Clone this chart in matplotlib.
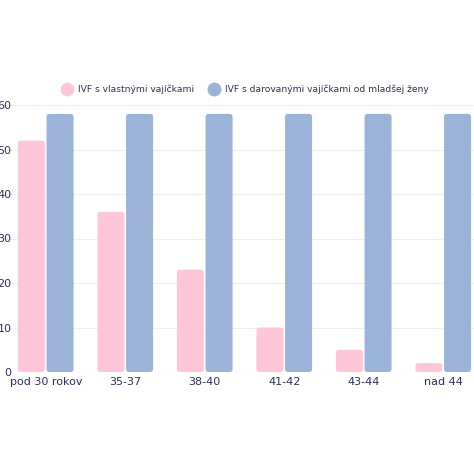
import matplotlib
matplotlib.use("Agg")
import matplotlib.pyplot as plt
from matplotlib.patches import FancyBboxPatch
from matplotlib.lines import Line2D

categories = ["pod 30 rokov", "35-37", "38-40", "41-42", "43-44", "nad 44"]
own = [52, 36, 23, 10, 5, 2]
donor = [58, 58, 58, 58, 58, 58]
series_names = ["IVF s vlastnými vajíčkami", "IVF s darovanými vajíčkami od mladšej ženy"]
colors = ["#FFC6DA", "#9BB3D6"]
txt = "#2E2E5C"

W = H = 474
fig = plt.figure(figsize=(W/100, H/100), dpi=100)
ax = fig.add_axes([6/W, (H-372)/H, 477/W, (372-105)/H])
ax.set_xlim(-0.5, 5.5)
ax.set_ylim(0, 60)
bw = 0.34
gap = 0.01
for i in range(len(categories)):
    for val, off, c in [(own[i], -bw/2-gap, colors[0]), (donor[i], bw/2+gap, colors[1])]:
        ax.bar(i+off, val, width=bw, color="none")
        p = FancyBboxPatch((i+off-bw/2, 0), bw, val,
                           boxstyle="round,pad=0,rounding_size=0.04",
                           mutation_aspect=60/267*79.5, fc=c, ec="none", zorder=3)
        ax.add_patch(p)
ax.set_yticks(range(0, 61, 10))
ax.grid(axis="y", color="#EEEEF2", lw=0.8, zorder=0)
ax.set_xticks(range(len(categories)))
ax.set_xticklabels(categories)
ax.tick_params(length=0, colors=txt, labelsize=8)
ax.tick_params(axis="y", pad=-4)
for s in ax.spines.values():
    s.set_visible(False)
ax.axhline(0, color="#DDDDE5", lw=0.8, zorder=1)
handles = [Line2D([], [], marker="o", ls="", ms=9, mfc=c, mec=c) for c in colors]
fig.legend(handles, series_names, loc="center", bbox_to_anchor=(243/W, 1-89/H),
           ncol=2, frameon=False, fontsize=6.6, labelcolor=txt, handletextpad=0.2, columnspacing=1.2)
fig.savefig("out.png", dpi=100)
